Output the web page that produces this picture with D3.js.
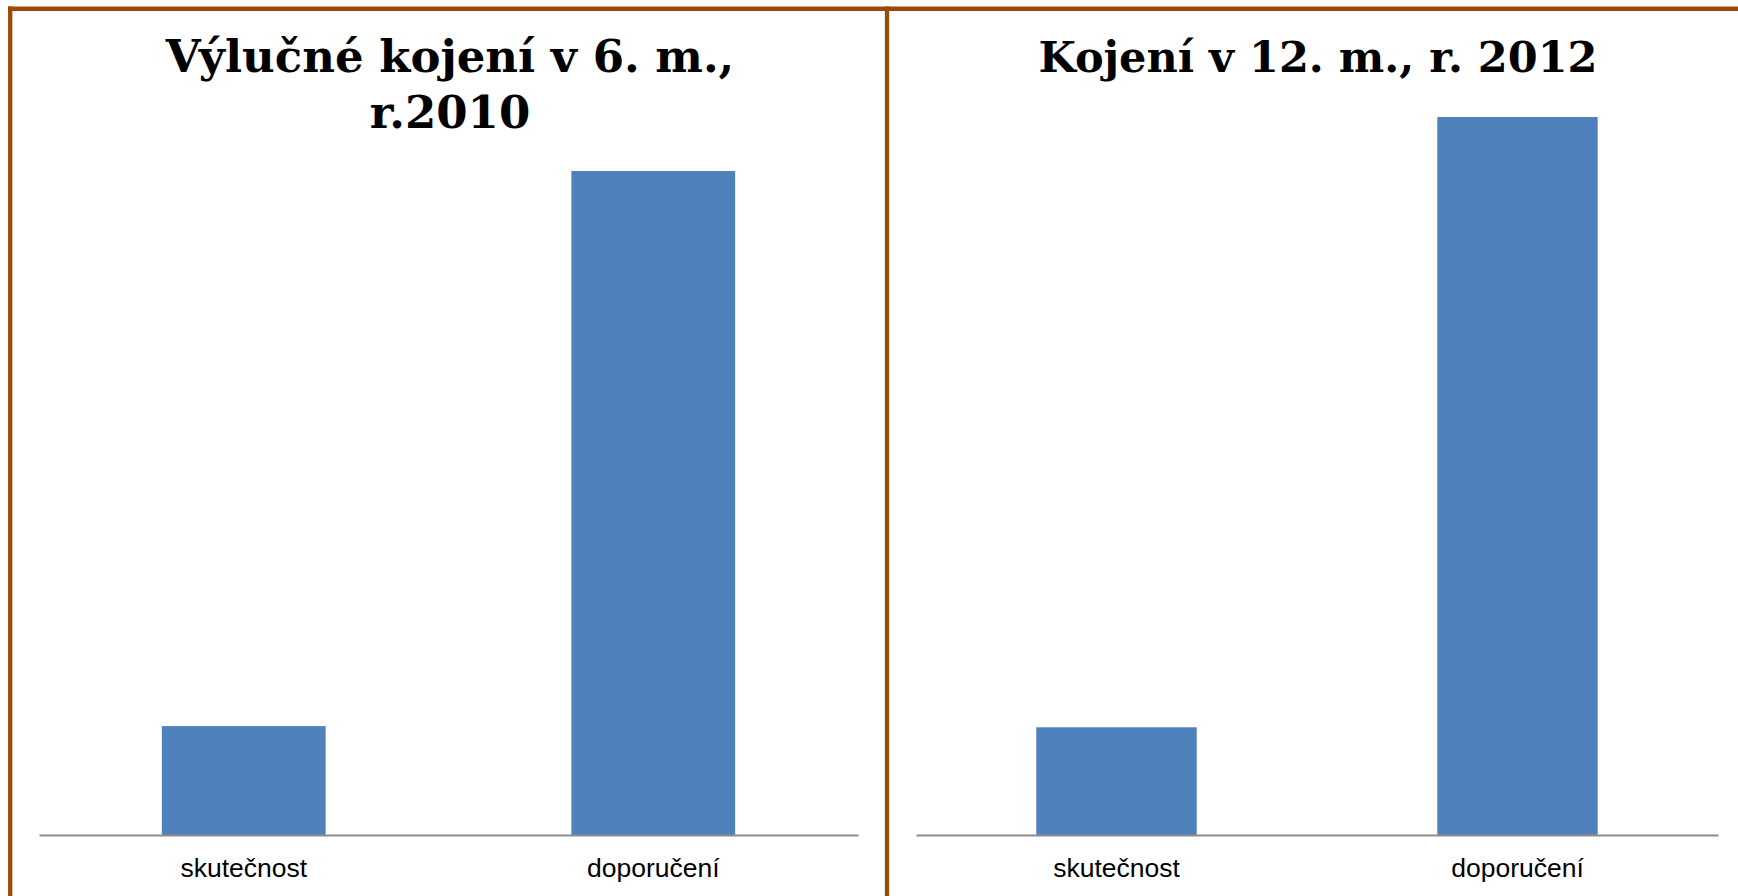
<!DOCTYPE html>
<html>
<head>
<meta charset="utf-8">
<script src="https://cdn.jsdelivr.net/npm/d3@7"></script>
<style>
  html, body { margin: 0; padding: 0; background: #fff; overflow: hidden; }
</style>
</head>
<body>
<svg id="chart" width="1738" height="896"></svg>
<script>
// data
const categories = ["skutečnost", "doporučení"];
const values2010 = [16.4, 100];
const values2012 = [15, 100];
const titles2010 = ["Výlučné kojení v 6. m.,", "r.2010"];
const titles2012 = ["Kojení v 12. m., r. 2012"];

const svg = d3.select("#chart");
const barColor = "#4f81bd";
const frameColor = "#9a4a08";

// brown frame: top rule, left rule, middle divider
svg.append("line").attr("x1", 8).attr("x2", 1738).attr("y1", 8.75).attr("y2", 8.75)
  .attr("stroke", frameColor).attr("stroke-width", 4.5);
svg.append("line").attr("x1", 10.2).attr("x2", 10.2).attr("y1", 6.5).attr("y2", 896)
  .attr("stroke", frameColor).attr("stroke-width", 4.3);
svg.append("line").attr("x1", 887).attr("x2", 887).attr("y1", 6.5).attr("y2", 896)
  .attr("stroke", frameColor).attr("stroke-width", 4.3);

function drawPanel(values, titleLines, left, right, top, titleX, titleSize) {
  const g = svg.append("g");
  const bottom = 835;

  const x = d3.scaleBand()
    .domain(categories)
    .range([left, right])
    .paddingInner(0.6)
    .paddingOuter(0.3);

  const y = d3.scaleLinear()
    .domain([0, 100])
    .range([bottom, top]);

  g.selectAll("rect")
    .data(values)
    .enter()
    .append("rect")
    .attr("x", (d, i) => x(categories[i]))
    .attr("width", x.bandwidth())
    .attr("y", d => y(d))
    .attr("height", d => bottom - y(d))
    .attr("fill", barColor);

  // category axis, no ticks, grey baseline
  const ax = g.append("g")
    .attr("transform", "translate(0," + bottom + ")")
    .call(d3.axisBottom(x).tickSize(0).tickPadding(23.5).tickSizeOuter(0));
  ax.select(".domain").attr("stroke", "#8c8c8c").attr("stroke-width", 2);
  ax.selectAll("text")
    .style("font-family", "'Liberation Sans', Arial, sans-serif")
    .style("font-size", "26.5px")
    .attr("fill", "#000");

  g.selectAll(".title")
    .data(titleLines)
    .enter()
    .append("text")
    .attr("class", "title")
    .attr("x", titleX)
    .attr("y", (d, i) => 72 + i * 56)
    .attr("text-anchor", "middle")
    .style("font-family", "'DejaVu Serif', Georgia, serif")
    .style("font-weight", "bold")
    .style("font-size", titleSize + "px")
    .text(d => d);
}

drawPanel(values2010, titles2010, 39, 858, 171, 450, 45);
drawPanel(values2012, titles2012, 916, 1718, 117, 1318, 43);
</script>
</body>
</html>
